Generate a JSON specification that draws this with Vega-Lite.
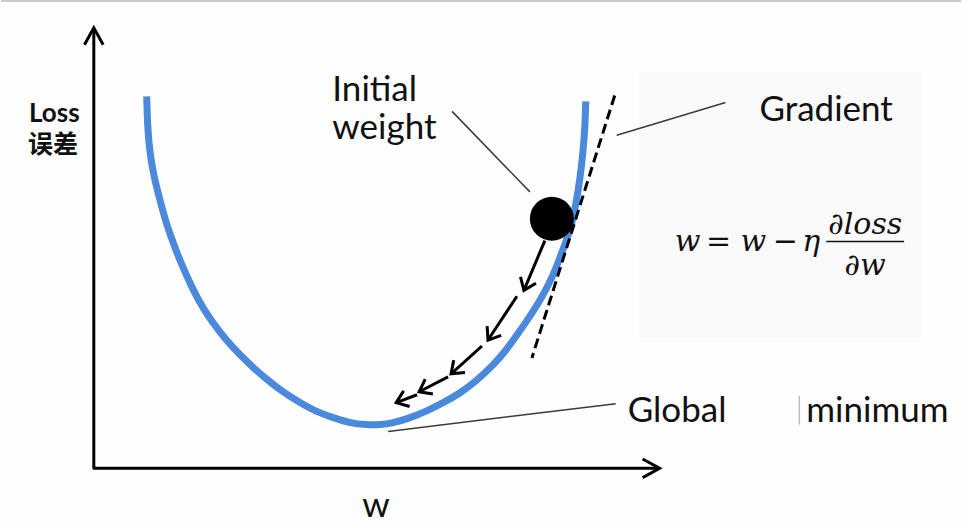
{
  "$schema": "https://vega.github.io/schema/vega-lite/v6.json",
  "description": "Gradient descent on a U-shaped loss curve.",
  "width": 962,
  "height": 524,
  "autosize": {"type": "fit", "contains": "padding"},
  "padding": 0,
  "background": "#fefefe",
  "config": {"view": {"stroke": null}},
  "datasets": {
    "boxes": [{"x": 640, "x2": 923, "y": 72, "y2": 340}],
    "curve": [
      {"x": 146, "y": 97}, {"x": 147, "y": 125}, {"x": 149, "y": 150}, {"x": 153, "y": 175},
      {"x": 159, "y": 200}, {"x": 166, "y": 225}, {"x": 174, "y": 248}, {"x": 182, "y": 268},
      {"x": 192, "y": 290}, {"x": 204, "y": 312}, {"x": 218, "y": 332}, {"x": 233, "y": 350},
      {"x": 250, "y": 367}, {"x": 267, "y": 382}, {"x": 284, "y": 395}, {"x": 300, "y": 405},
      {"x": 317, "y": 414}, {"x": 333, "y": 420}, {"x": 350, "y": 425}, {"x": 366, "y": 427},
      {"x": 380, "y": 427}, {"x": 393, "y": 425}, {"x": 410, "y": 420}, {"x": 427, "y": 413},
      {"x": 443, "y": 405}, {"x": 460, "y": 395}, {"x": 477, "y": 382}, {"x": 493, "y": 367},
      {"x": 506, "y": 352}, {"x": 517, "y": 337}, {"x": 528, "y": 321}, {"x": 537, "y": 307},
      {"x": 545, "y": 293}, {"x": 552, "y": 279}, {"x": 559, "y": 262}, {"x": 565, "y": 246},
      {"x": 571, "y": 228}, {"x": 576, "y": 205}, {"x": 580, "y": 180}, {"x": 583, "y": 154},
      {"x": 585, "y": 128}, {"x": 586, "y": 102}
    ],
    "segs": [
      {"k": "border", "x": 0, "y": 1, "x2": 962, "y2": 1},
      {"k": "axis", "x": 93, "y": 471, "x2": 93, "y2": 29},
      {"k": "axis", "x": 92, "y": 471, "x2": 659, "y2": 471},
      {"k": "tangent", "x": 615, "y": 96, "x2": 532, "y2": 360},
      {"k": "pointer", "x": 452, "y": 112, "x2": 530, "y2": 193},
      {"k": "pointer", "x": 617, "y": 136, "x2": 726, "y2": 103},
      {"k": "pointer", "x": 388, "y": 434, "x2": 616, "y2": 406},
      {"k": "step", "x": 545, "y": 242, "x2": 524, "y2": 292},
      {"k": "step", "x": 517, "y": 298, "x2": 488, "y2": 342},
      {"k": "step", "x": 482, "y": 348, "x2": 451, "y2": 376},
      {"k": "step", "x": 448, "y": 379, "x2": 419, "y2": 394},
      {"k": "step", "x": 417, "y": 397, "x2": 396, "y2": 405},
      {"k": "frac", "x": 827, "y": 243, "x2": 905, "y2": 243},
      {"k": "cursor", "x": 800, "y": 398, "x2": 800, "y2": 427}
    ],
    "heads": [
      {"k": "axis", "x": 93, "y": 28, "angle": 270},
      {"k": "axis", "x": 660, "y": 471, "angle": 0},
      {"k": "step", "x": 524, "y": 292, "angle": 112.8},
      {"k": "step", "x": 488, "y": 342, "angle": 123.4},
      {"k": "step", "x": 451, "y": 376, "angle": 137.9},
      {"k": "step", "x": 419, "y": 394, "angle": 152.7},
      {"k": "step", "x": 396, "y": 405, "angle": 159.1}
    ],
    "dot": [{"x": 552, "y": 220}],
    "labels": [
      {"k": "sans", "x": 332, "y": 102, "t": "Initial"},
      {"k": "sans", "x": 332, "y": 140, "t": "weight"},
      {"k": "sans", "x": 760, "y": 122, "t": "Gradient"},
      {"k": "sans", "x": 628, "y": 424, "t": "Global"},
      {"k": "sans", "x": 807, "y": 424, "t": "minimum"},
      {"k": "sans", "x": 362, "y": 520, "t": "w"},
      {"k": "bold", "x": 28, "y": 123, "t": "Loss"},
      {"k": "cjk", "x": 27, "y": 154, "t": "误差"},
      {"k": "math", "x": 688, "y": 252, "t": "w"},
      {"k": "math", "x": 719, "y": 252, "t": "="},
      {"k": "math", "x": 754, "y": 252, "t": "w"},
      {"k": "math", "x": 786, "y": 252, "t": "−"},
      {"k": "math", "x": 812, "y": 252, "t": "η"},
      {"k": "math", "x": 866, "y": 235, "t": "∂loss"},
      {"k": "math", "x": 866, "y": 277, "t": "∂w"}
    ]
  },
  "encoding": {
    "x": {"field": "x", "type": "quantitative", "scale": {"domain": [0, 962], "nice": false, "zero": false}, "axis": null},
    "y": {"field": "y", "type": "quantitative", "scale": {"domain": [0, 524], "reverse": true, "nice": false, "zero": false}, "axis": null}
  },
  "layer": [
    {
      "data": {"name": "boxes"},
      "mark": {"type": "rect", "fill": "#fafafa"},
      "encoding": {"x2": {"field": "x2"}, "y2": {"field": "y2"}}
    },
    {
      "data": {"name": "segs"},
      "transform": [{"filter": "datum.k === 'border'"}],
      "mark": {"type": "rule", "color": "#c6cad2", "strokeWidth": 2},
      "encoding": {"x2": {"field": "x2"}, "y2": {"field": "y2"}}
    },
    {
      "data": {"name": "segs"},
      "transform": [{"filter": "datum.k === 'axis'"}],
      "mark": {"type": "rule", "color": "black", "strokeWidth": 3},
      "encoding": {"x2": {"field": "x2"}, "y2": {"field": "y2"}}
    },
    {
      "data": {"name": "curve"},
      "mark": {"type": "line", "color": "#4a89dc", "strokeWidth": 7, "interpolate": "natural"}
    },
    {
      "data": {"name": "segs"},
      "transform": [{"filter": "datum.k === 'tangent'"}],
      "mark": {"type": "rule", "color": "black", "strokeWidth": 3, "strokeDash": [10, 5]},
      "encoding": {"x2": {"field": "x2"}, "y2": {"field": "y2"}}
    },
    {
      "data": {"name": "segs"},
      "transform": [{"filter": "datum.k === 'pointer'"}],
      "mark": {"type": "rule", "color": "#3a3a3a", "strokeWidth": 1.5},
      "encoding": {"x2": {"field": "x2"}, "y2": {"field": "y2"}}
    },
    {
      "data": {"name": "segs"},
      "transform": [{"filter": "datum.k === 'step'"}],
      "mark": {"type": "rule", "color": "black", "strokeWidth": 3},
      "encoding": {"x2": {"field": "x2"}, "y2": {"field": "y2"}}
    },
    {
      "data": {"name": "segs"},
      "transform": [{"filter": "datum.k === 'frac'"}],
      "mark": {"type": "rule", "color": "#111", "strokeWidth": 1.5},
      "encoding": {"x2": {"field": "x2"}, "y2": {"field": "y2"}}
    },
    {
      "data": {"name": "segs"},
      "transform": [{"filter": "datum.k === 'cursor'"}],
      "mark": {"type": "rule", "color": "#b4bccb", "strokeWidth": 1.5},
      "encoding": {"x2": {"field": "x2"}, "y2": {"field": "y2"}}
    },
    {
      "data": {"name": "heads"},
      "transform": [{"filter": "datum.k === 'axis'"}],
      "mark": {"type": "point", "shape": "M-1,-0.55L0,0L-1,0.55", "filled": false, "stroke": "black", "strokeWidth": 3, "size": 1156, "opacity": 1},
      "encoding": {"angle": {"field": "angle", "type": "quantitative", "scale": null}}
    },
    {
      "data": {"name": "heads"},
      "transform": [{"filter": "datum.k === 'step'"}],
      "mark": {"type": "point", "shape": "M-1,-0.75L0,0L-1,0.75", "filled": false, "stroke": "black", "strokeWidth": 3, "size": 500, "opacity": 1},
      "encoding": {"angle": {"field": "angle", "type": "quantitative", "scale": null}}
    },
    {
      "data": {"name": "dot"},
      "mark": {"type": "point", "shape": "circle", "filled": true, "color": "black", "size": 1936, "opacity": 1}
    },
    {
      "data": {"name": "labels"},
      "transform": [{"filter": "datum.k === 'sans'"}],
      "mark": {"type": "text", "font": "Lato", "fontSize": 35, "color": "#111", "align": "left", "baseline": "alphabetic"},
      "encoding": {"text": {"field": "t"}}
    },
    {
      "data": {"name": "labels"},
      "transform": [{"filter": "datum.k === 'bold'"}],
      "mark": {"type": "text", "font": "Lato", "fontSize": 26, "fontWeight": "bold", "color": "#111", "align": "left", "baseline": "alphabetic"},
      "encoding": {"text": {"field": "t"}}
    },
    {
      "data": {"name": "labels"},
      "transform": [{"filter": "datum.k === 'cjk'"}],
      "mark": {"type": "text", "font": "Noto Sans CJK SC", "fontSize": 25, "fontWeight": "bold", "color": "#111", "align": "left", "baseline": "alphabetic"},
      "encoding": {"text": {"field": "t"}}
    },
    {
      "data": {"name": "labels"},
      "transform": [{"filter": "datum.k === 'math'"}],
      "mark": {"type": "text", "font": "DejaVu Serif", "fontStyle": "italic", "fontSize": 30, "color": "#111", "align": "center", "baseline": "alphabetic"},
      "encoding": {"text": {"field": "t"}}
    }
  ]
}
